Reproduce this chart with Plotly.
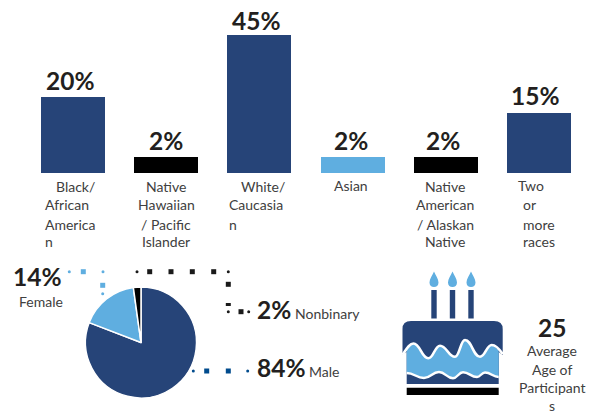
import plotly.graph_objects as go

W, H = 589, 411
FONT = "Lato"
NAVY = "#264478"
SKY = "#5FAEE0"
BLACK = "#000000"
DARK = "#231F20"
GREY = "#404040"

# ---- data ----
categories = ["Black/African American", "Native Hawaiian/Pacific Islander", "White/Caucasian",
              "Asian", "Native American/Alaskan Native", "Two or more races"]
bar_labels = ["20%", "2%", "45%", "2%", "2%", "15%"]
# heights of the bars as drawn in the picture (the picture's bars are not proportional to their labels)
bar_heights = [24.8, 5.2, 45, 5.2, 5.2, 19.6]
bar_colors = [NAVY, BLACK, NAVY, SKY, BLACK, NAVY]
pie_names = ["Male", "Female", "Nonbinary"]
pie_drawn = [81, 17, 2.2]
pie_colors = [NAVY, SKY, BLACK]


def px(x):
    return x / W


def py(y):
    return 1 - y / H


STEP = 93.2
fig = go.Figure()
fig.add_bar(x=list(range(6)), y=bar_heights, width=64 / STEP, marker=dict(color=bar_colors, line_width=0),
            customdata=categories, hovertemplate="%{customdata}<extra></extra>")
fig.add_pie(labels=pie_names, values=pie_drawn, sort=False, direction="clockwise", rotation=0,
            marker=dict(colors=pie_colors, line=dict(color="white", width=1.5)), textinfo="none",
            domain=dict(x=[px(85.5), px(196.5)], y=[py(398), py(287)]), showlegend=False)

annotations = []


def text(s, x, y, size=14, color=GREY, bold=False, anchor="center"):
    annotations.append(dict(text=f"<b>{s}</b>" if bold else s, x=px(x - 1), y=py(y - 1), xref="paper", yref="paper",
                            showarrow=False, xanchor=anchor, yanchor="middle", align=anchor,
                            font=dict(family=FONT, size=size, color=color), borderpad=0))


# bar value labels
for lab, x, y in zip(bar_labels, [71.5, 166.5, 257.5, 351.5, 444.5, 536.5], [82, 141, 21, 141, 141, 97]):
    text(lab, x, y, 24.5, DARK, True)

# category label lines
for s, x, y, a in [
    ("Black/", 56, 187, "left"), ("African", 45, 206, "left"), ("America", 45, 225, "left"), ("n", 45, 243, "left"),
    ("Native", 167, 187, "center"), ("Hawaiian", 167, 206, "center"), ("/ Pacific", 167, 225, "center"),
    ("Islander", 167, 243, "center"),
    ("White/", 241, 187, "left"), ("Caucasia", 229, 206, "left"), ("n", 229, 225, "left"),
    ("Asian", 352, 186, "center"),
    ("Native", 446, 187, "center"), ("American", 446, 206, "center"), ("/ Alaskan", 446, 225, "center"),
    ("Native", 446, 243, "center"),
    ("Two", 518, 186, "left"), ("or", 523, 205, "left"), ("more", 523, 225, "left"), ("races", 523, 243, "left"),
]:
    text(s, x, y, 14, GREY, False, a)

# pie labels
text("14%", 38.5, 277, 24.5, DARK, True)
text("Female", 42, 302, 14)
text("2%", 256.7, 310, 24.5, DARK, True, "left")
text("Nonbinary", 294.7, 314, 14, GREY, False, "left")
text("84%", 256.7, 368, 24.5, DARK, True, "left")
text("Male", 309, 372, 14, GREY, False, "left")

# cake labels
text("25", 553, 328, 24.5, DARK, True)
text("Average", 553, 351, 14)
text("Age of", 553, 370, 14)
text("Participant", 553, 388, 14)
text("s", 553, 406, 14)

shapes = []


def box(x0, y0, x1, y1, color):
    shapes.append(dict(type="rect", xref="paper", yref="paper", x0=px(x0), x1=px(x1), y0=py(y1), y1=py(y0),
                       fillcolor=color, line_width=0, layer="above"))


def square(x, y, s, color):
    box(x - s / 2, y - s / 2, x + s / 2, y + s / 2, color)


def dot(x, y, s, color):
    shapes.append(dict(type="circle", xref="paper", yref="paper", x0=px(x - s / 2), x1=px(x + s / 2),
                       y0=py(y + s / 2), y1=py(y - s / 2), fillcolor=color, line_width=0, layer="above"))


# leader dots
LEAD = "#004B8D"
INK = "#1A1A1A"
for x, y in [(69.3, 271.7), (103, 271.7), (102.7, 293.7)]:
    dot(x, y, 3, SKY)
square(83.3, 271.7, 5, SKY)
square(102.7, 285.3, 5, SKY)
for x, y in [(137, 271.7), (228.3, 271.7), (228.3, 311.7), (248.7, 311.7)]:
    dot(x, y, 3, INK)
for x, y in [(149.7, 271.7), (171, 271.7), (192.3, 271.7), (213.7, 271.7), (228.3, 284.3), (241, 311.7)]:
    square(x, y, 5, INK)
box(225.8, 303, 230.8, 306, INK)
for x, y in [(193.3, 371), (247.7, 371)]:
    dot(x, y, 3, LEAD)
for x, y in [(206.7, 371), (228.3, 371)]:
    square(x, y, 5, LEAD)


# ---- cake, coordinates in picture pixels ----
def path(points_cmd):
    out = []
    for tok in points_cmd:
        if isinstance(tok, str):
            out.append(tok)
        else:
            out.append(f"{px(tok[0]):.5f},{py(tok[1]):.5f}")
    return " ".join(out)


def add_path(cmd, fill=None, line=None, lw=0):
    shapes.append(dict(type="path", xref="paper", yref="paper", path=path(cmd),
                       fillcolor=fill if fill else "rgba(0,0,0,0)",
                       line=dict(color=line if line else "rgba(0,0,0,0)", width=lw), layer="above"))


def smooth(knots):
    """Curve through wave crests and troughs, flat at each one."""
    cmd = []
    for (x0, y0), (x1, y1) in zip(knots, knots[1:]):
        m = (x1 - x0) * 0.45
        cmd += ["C", (x0 + m, y0), (x1 - m, y1), (x1, y1)]
    return cmd


top_wave = [(413.5, 343.5), (428.3, 358.3), (440, 345.7), (455, 356.7), (465, 340), (480, 356.7), (491.7, 345)]
low_wave = [(406.7, 373), (424, 378), (439, 372), (453, 378.3), (463, 372.3), (477, 377), (485, 372.5), (498.7, 377)]

# candles and flames
for cx in [434, 452.5, 471]:
    box(cx - 2.7, 290, cx + 2.7, 318.5, NAVY)
    add_path(["M", (cx, 271.5), "C", (cx + 1.5, 275), (cx + 4.5, 279), (cx + 4.5, 282.5), "C", (cx + 4.5, 285.5),
              (cx + 2.5, 287), (cx, 287), "C", (cx - 2.5, 287), (cx - 4.5, 285.5), (cx - 4.5, 282.5),
              "C", (cx - 4.5, 279), (cx - 1.5, 275), (cx, 271.5), "Z"], SKY)

# dark cake body
add_path(["M", (402.5, 355), "L", (402.5, 329), "Q", (402.5, 321), (411, 321), "L", (494, 321), "Q", (502.7, 321),
          (502.7, 329), "L", (502.7, 355), "L", (498.7, 352), "L", (498.7, 384), "L", (406.7, 384),
          "L", (406.7, 352), "Z"], NAVY)
# light layer
rev_low = low_wave[::-1]
add_path(["M", (406.7, 349), "L", top_wave[0]] + smooth(top_wave) + ["L", (498.7, 350), "L", rev_low[0]]
         + smooth(rev_low) + ["Z"], SKY)
# white wave lines
add_path(["M", (402.5, 355), "C", (406, 350), (409, 343.5), top_wave[0]] + smooth(top_wave)
         + ["C", (496, 345), (500, 350), (502.7, 354)], None, "white", 2.6)
add_path(["M", low_wave[0]] + smooth(low_wave), None, "white", 2.4)
# black plate
box(406.7, 387.7, 498.7, 395, BLACK)

fig.update_layout(
    width=W, height=H, margin=dict(l=0, r=0, t=0, b=0), paper_bgcolor="white", plot_bgcolor="white",
    showlegend=False, bargap=0, annotations=annotations, shapes=shapes,
    xaxis=dict(domain=[0, 1], range=[-73 / STEP, (W - 73) / STEP], visible=False, fixedrange=True),
    yaxis=dict(domain=[py(173), 1], range=[0, 173 / 138 * 45], visible=False, fixedrange=True),
)
fig.write_html("out.html", config=dict(displayModeBar=False),
               post_script="document.body.style.margin='0';document.body.style.overflow='hidden';")
